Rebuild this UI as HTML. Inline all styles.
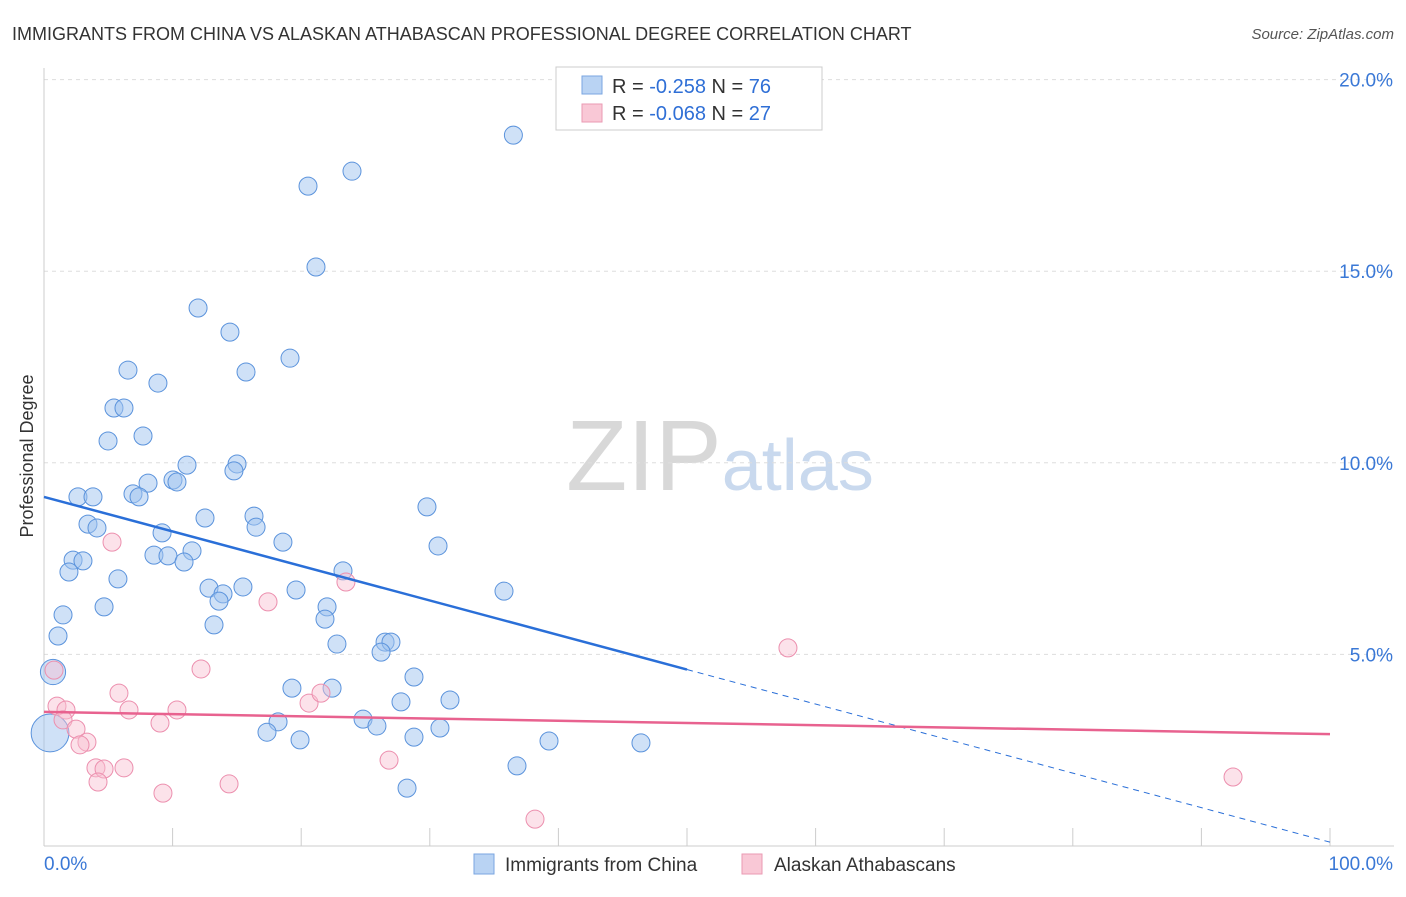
<!DOCTYPE html>
<html><head><meta charset="utf-8"><style>
body{margin:0;background:#fff;font-family:"Liberation Sans",sans-serif}
svg text{font-family:"Liberation Sans",sans-serif}
</style></head><body>
<svg id="chart" width="1406" height="892">
<text x="12" y="40" font-size="18" fill="#333">IMMIGRANTS FROM CHINA VS ALASKAN ATHABASCAN PROFESSIONAL DEGREE CORRELATION CHART</text>
<text x="1394" y="39" font-size="15" fill="#555" text-anchor="end" font-style="italic">Source: ZipAtlas.com</text>
<text transform="translate(33,456) rotate(-90)" font-size="18" fill="#333" text-anchor="middle">Professional Degree</text>
<text x="720" y="490" font-size="100" fill="#ddd" text-anchor="middle" font-family="Liberation Serif"><tspan fill="#d8d8d8">ZIP</tspan><tspan fill="#c9d9ee" font-family="Liberation Sans" font-size="72">atlas</tspan></text>
<g id="grid"></g><g id="axes"></g><g id="pts"></g><g id="lines"></g>
<g>
<rect x="556" y="67" width="266" height="63" fill="#fff" stroke="#ccc"/>
<rect x="582" y="76" width="20" height="18" fill="#b9d3f3" stroke="#7aa6e0"/>
<text x="612" y="93" font-size="20" fill="#333">R = <tspan fill="#2f6fd6">-0.258</tspan>   N = <tspan fill="#2f6fd6">76</tspan></text>
<rect x="582" y="104" width="20" height="18" fill="#f9c8d6" stroke="#ea9ab3"/>
<text x="612" y="120" font-size="20" fill="#333">R = <tspan fill="#2f6fd6">-0.068</tspan>   N = <tspan fill="#2f6fd6">27</tspan></text>
</g>
<g>
<rect x="474" y="854" width="20" height="20" fill="#b9d3f3" stroke="#7aa6e0"/>
<text x="505" y="871" font-size="19" fill="#333">Immigrants from China</text>
<rect x="742" y="854" width="20" height="20" fill="#f9c8d6" stroke="#ea9ab3"/>
<text x="774" y="871" font-size="19" fill="#333">Alaskan Athabascans</text>
</g>
</svg>
<script>
const yTicks=[5,10,15,20];
const yTickLabels=["5.0%","10.0%","15.0%","20.0%"];
const xTickLabels=["0.0%","100.0%"];
const chinaX=[36.5,23.95,20.53,21.15,11.98,14.46,19.13,6.53,15.71,8.86,5.44,6.22,4.98,7.70,11.12,15.01,14.77,10.03,10.34,8.09,2.64,3.81,6.92,7.39,29.78,3.42,4.12,12.52,16.33,16.49,9.18,18.58,30.64,11.51,8.55,9.64,10.89,2.26,3.03,1.94,23.25,5.75,12.83,15.47,19.60,35.77,13.92,13.61,22.01,4.67,1.48,21.85,13.22,1.09,26.52,26.98,22.78,26.21,0.70,28.77,19.28,22.40,27.76,31.57,24.81,18.20,25.89,17.34,30.79,28.77,19.91,39.27,46.42,36.78,28.23,0.47];
const chinaY=[18.55,17.61,17.22,15.11,14.04,13.41,12.73,12.42,12.37,12.08,11.43,11.43,10.57,10.70,9.94,9.97,9.79,9.55,9.50,9.47,9.11,9.11,9.19,9.11,8.85,8.40,8.30,8.56,8.61,8.32,8.17,7.93,7.83,7.70,7.59,7.57,7.41,7.46,7.44,7.15,7.18,6.97,6.73,6.76,6.68,6.65,6.58,6.39,6.24,6.24,6.03,5.92,5.77,5.48,5.32,5.32,5.27,5.06,4.54,4.41,4.12,4.12,3.76,3.81,3.31,3.24,3.13,2.97,3.08,2.84,2.77,2.74,2.69,2.09,1.51,2.95];
const chinaSize=[1,1,1,1,1,1,1,1,1,1,1,1,1,1,1,1,1,1,1,1,1,1,1,1,1,1,1,1,1,1,1,1,1,1,1,1,1,1,1,1,1,1,1,1,1,1,1,1,1,1,1,1,1,1,1,1,1,1,1.4,1,1,1,1,1,1,1,1,1,1,1,1,1,1,1,1,2.1];
const athX=[5.29,17.42,23.48,12.21,57.85,0.78,5.83,1.01,1.71,6.61,10.34,1.48,9.02,20.61,21.54,2.49,3.34,2.80,4.04,4.67,6.22,4.20,14.39,9.25,26.83,38.18,92.46];
const athY=[7.93,6.37,6.89,4.62,5.17,4.59,3.99,3.65,3.55,3.55,3.55,3.29,3.21,3.73,3.99,3.05,2.71,2.64,2.04,2.01,2.04,1.67,1.62,1.38,2.24,0.70,1.80];
const chinaTrend=[9.11,0.10];
const athTrend=[3.50,2.92];
const NS='http://www.w3.org/2000/svg';
const X=v=>44+v*12.86, Y=v=>846-v*38.32;
function mk(t,a,p){const e=document.createElementNS(NS,t);for(const k in a)e.setAttribute(k,a[k]);document.getElementById(p).appendChild(e);return e;}
yTicks.forEach((t,i)=>{
 const g=mk('line',{x1:44,x2:1394,y1:Y(t),y2:Y(t),stroke:'#ddd','stroke-dasharray':'4,4'},'grid');
 
 
 const l=mk('text',{x:1393,y:Y(t)+7,'font-size':19,fill:'#3a78d6','text-anchor':'end'},'grid');l.textContent=yTickLabels[i];
 
 
});
mk('line',{x1:44,x2:1394,y1:Y(0),y2:Y(0),stroke:'#ccc'},'axes');
mk('line',{x1:44,x2:44,y1:68,y2:846,stroke:'#ccc'},'axes');
for(let i=1;i<=10;i++){mk('line',{x1:X(i*10),x2:X(i*10),y1:828,y2:846,stroke:'#ccc'},'axes');}
xTickLabels.forEach((s,i)=>{const t=mk('text',{x:i?1393:44,y:870,'font-size':19,fill:'#3a78d6','text-anchor':i?'end':'start'},'axes');t.textContent=s;
 
 });
chinaX.forEach((x,i)=>{const c=mk('circle',{cx:X(x),cy:Y(chinaY[i]),r:9*chinaSize[i],fill:'rgba(160,196,240,0.5)',stroke:'#5b93dc','stroke-width':1},'pts');
 
 });
athX.forEach((x,i)=>{const c=mk('circle',{cx:X(x),cy:Y(athY[i]),r:9,fill:'rgba(248,190,208,0.45)',stroke:'#ec8fae','stroke-width':1},'pts');
 
 });
const mid=50;
const cy=x=>chinaTrend[0]+(chinaTrend[1]-chinaTrend[0])*x/100;
const l1=mk('line',{x1:X(0),y1:Y(cy(0)),x2:X(mid),y2:Y(cy(mid)),stroke:'#2a6fd8','stroke-width':2.5},'lines');


const l2=mk('line',{x1:X(mid),y1:Y(cy(mid)),x2:X(100),y2:Y(cy(100)),stroke:'#2a6fd8','stroke-width':1,'stroke-dasharray':'6,5'},'lines');


const l3=mk('line',{x1:X(0),y1:Y(athTrend[0]),x2:X(100),y2:Y(athTrend[1]),stroke:'#e8628f','stroke-width':2.5},'lines');


</script>
</body></html>
